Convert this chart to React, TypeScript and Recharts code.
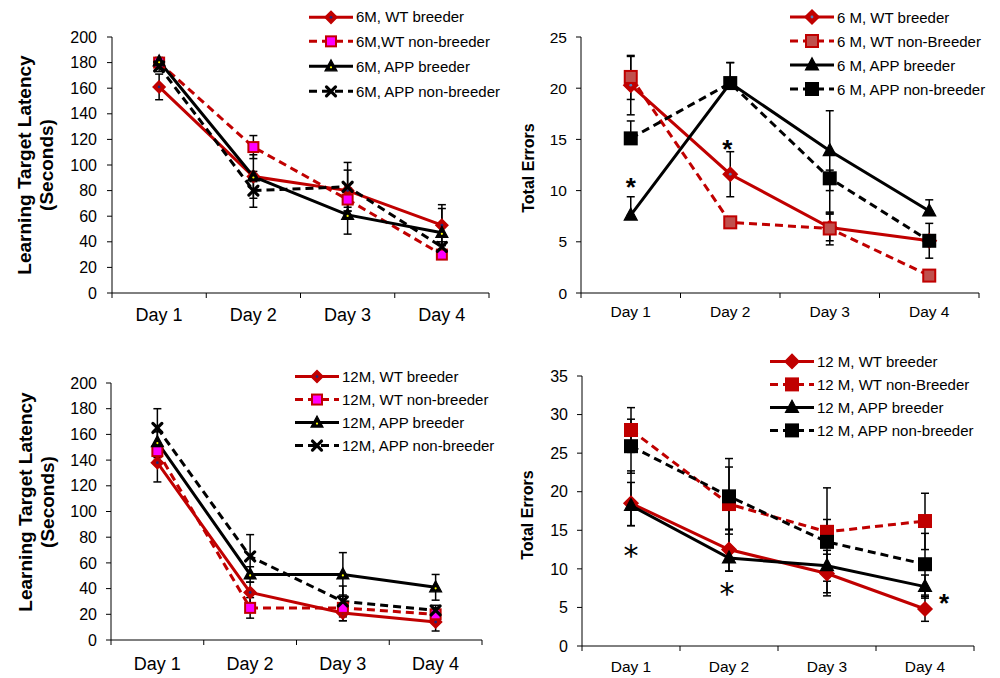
import React from 'react';
import { LineChart, Line, XAxis, YAxis, ErrorBar, ReferenceDot, Legend, Label } from 'recharts';

type Pair = [number, number];

const days = ['Day 1', 'Day 2', 'Day 3', 'Day 4'];

// Top-left: 6M latency (seconds)
const lat6Names = ['6M, WT breeder', '6M,WT non-breeder', '6M, APP breeder', '6M, APP non-breeder'];
const lat6WtB = [161, 91, 80, 53];
const lat6WtBErr: Pair[] = [[10, 10], [4, 4], [16, 16], [16, 16]];
const lat6WtNB = [180, 114, 73, 30];
const lat6WtNBErr: Pair[] = [[3, 3], [9, 9], [6, 6], [3, 3]];
const lat6AppB = [181, 91, 61, 47];
const lat6AppBErr: Pair[] = [[3, 3], [17, 17], [15, 15], [19, 19]];
const lat6AppNB = [177, 80, 83, 36];
const lat6AppNBErr: Pair[] = [[4, 4], [13, 13], [19, 19], [4, 4]];
const latencyTicks = [0, 20, 40, 60, 80, 100, 120, 140, 160, 180, 200];

// Top-right: 6M total errors
const err6Names = ['6 M, WT breeder', '6 M, WT non-Breeder', '6 M, APP breeder', '6 M, APP non-breeder'];
const err6WtB = [20.3, 11.6, 6.4, 5.1];
const err6WtBErr: Pair[] = [[2.9, 2.9], [2.2, 2.2], [1.3, 1.3], [0.5, 0.5]];
const err6WtNB = [21.1, 6.9, 6.3, 1.7];
const err6WtNBErr: Pair[] = [[2.2, 2.0], [0.3, 0.3], [1.6, 1.6], [0.4, 0.4]];
const err6AppB = [7.6, 20.5, 13.9, 8.0];
const err6AppBErr: Pair[] = [[0, 1.8], [0, 2.0], [3.9, 3.9], [0, 1.1]];
const err6AppNB = [15.1, 20.5, 11.2, 5.1];
const err6AppNBErr: Pair[] = [[0, 1.7], [0, 2.0], [3.4, 0.8], [1.7, 1.7]];
const errors6Ticks = [0, 5, 10, 15, 20, 25];
const star6Days = ['Day 1', 'Day 2'];
const star6Vals = [10.9, 14.6];

// Bottom-left: 12M latency (seconds)
const lat12Names = ['12M, WT breeder', '12M, WT non-breeder', '12M, APP breeder', '12M, APP non-breeder'];
const lat12WtB = [138, 37, 21, 14];
const lat12WtBErr: Pair[] = [[15, 15], [8, 8], [6, 6], [7, 7]];
const lat12WtNB = [147, 25, 25, 20];
const lat12WtNBErr: Pair[] = [[5, 5], [8, 8], [10, 10], [5, 5]];
const lat12AppB = [154, 51, 51, 41];
const lat12AppBErr: Pair[] = [[8, 8], [6, 6], [17, 17], [10, 10]];
const lat12AppNB = [165, 65, 30, 23];
const lat12AppNBErr: Pair[] = [[15, 15], [17, 17], [12, 12], [4, 4]];

// Bottom-right: 12M total errors
const err12Names = ['12 M, WT breeder', '12 M, WT non-Breeder', '12 M, APP breeder', '12 M, APP non-breeder'];
const err12WtB = [18.5, 12.5, 9.4, 4.8];
const err12WtBErr: Pair[] = [[2.9, 4.2], [2.8, 2.6], [2.5, 2.5], [1.6, 1.6]];
const err12WtNB = [28.0, 18.4, 14.8, 16.2];
const err12WtNBErr: Pair[] = [[2.9, 2.9], [3.3, 4.8], [1.6, 1.6], [3.7, 3.6]];
const err12AppB = [18.2, 11.4, 10.4, 7.7];
const err12AppBErr: Pair[] = [[2.6, 3.0], [1.7, 3.7], [2.0, 2.0], [1.5, 1.5]];
const err12AppNB = [25.9, 19.4, 13.5, 10.6];
const err12AppNBErr: Pair[] = [[3.5, 3.5], [4.9, 4.9], [7.0, 7.0], [4.0, 4.0]];
const errors12Ticks = [0, 5, 10, 15, 20, 25, 30, 35];
const star12Days = ['Day 1', 'Day 2', 'Day 4'];
const star12Vals = [12.3, 7.4, 6.3];

const FONT = '"Liberation Sans", Arial, Helvetica, sans-serif';
const RED = '#C00000';

type MarkerSpec = { type: 'diamond' | 'square' | 'triangle' | 'cross'; fill: string; stroke: string; size: number; center?: string };
type SeriesStyle = { color: string; dash?: string; marker: MarkerSpec };

function Marker({ cx, cy, m }: { cx: number; cy: number; m: MarkerSpec }) {
  const s = m.size;
  if (cx == null || cy == null) return null;
  if (m.type === 'diamond') {
    return (
      <g>
        <polygon points={`${cx},${cy - s} ${cx + s},${cy} ${cx},${cy + s} ${cx - s},${cy}`} fill={m.fill} stroke={m.stroke} strokeWidth={1.5} />
        {m.center && <circle cx={cx} cy={cy} r={1.4} fill={m.center} />}
      </g>
    );
  }
  if (m.type === 'square') {
    return <rect x={cx - s} y={cy - s} width={2 * s} height={2 * s} fill={m.fill} stroke={m.stroke} strokeWidth={2} />;
  }
  if (m.type === 'triangle') {
    return (
      <g>
        <polygon points={`${cx},${cy - s * 1.1} ${cx + s},${cy + s * 0.75} ${cx - s},${cy + s * 0.75}`} fill={m.fill} stroke={m.stroke} strokeWidth={1.2} />
        {m.center && <circle cx={cx} cy={cy + 1} r={1.1} fill={m.center} />}
      </g>
    );
  }
  return (
    <g stroke={m.stroke} strokeWidth={3.2} strokeLinecap="round">
      <line x1={cx - s} y1={cy - s} x2={cx + s} y2={cy + s} />
      <line x1={cx - s} y1={cy + s} x2={cx + s} y2={cy - s} />
    </g>
  );
}

interface PanelCfg {
  left: number; top: number; width: number; height: number;
  plotL: number; plotR: number; plotT: number; plotB: number;
  yMax: number; yTicks: number[];
  yTickFont: number; yTickGap: number;
  xFont: number; xBaseline: number;
  title: string[]; titleFont: number; titleX: number[]; titleY: number;
  legendX: number; legendY: number; legendRow: number; legendFont: number;
  lineWidth: number;
}

interface PanelProps {
  cfg: PanelCfg;
  names: string[];
  values: number[][];
  errors: Pair[][];
  styles: SeriesStyle[];
  starDays: string[];
  starVals: number[];
  starBold: boolean[];
  starDx: number[];
}

function Panel({ cfg, names, values, errors, styles, starDays, starVals, starBold, starDx }: PanelProps) {
  const data = days.map((d, i) => {
    const row: Record<string, any> = { day: d };
    values.forEach((v, k) => {
      row[`s${k}`] = v[i];
      row[`e${k}`] = errors[k][i];
    });
    return row;
  });
  const bw = (cfg.plotR - cfg.plotL) / days.length;
  const axisY = cfg.plotB;

  const XTick = (p: any) => {
    const { x, payload, index } = p;
    return (
      <g>
        <line x1={x - bw / 2} y1={axisY} x2={x - bw / 2} y2={axisY + 5} stroke="#000" strokeWidth={1} />
        {index === days.length - 1 && <line x1={x + bw / 2} y1={axisY} x2={x + bw / 2} y2={axisY + 5} stroke="#000" strokeWidth={1} />}
        <text x={x} y={axisY + cfg.xBaseline} textAnchor="middle" fill="#000" fontSize={cfg.xFont} fontFamily={FONT}>
          {payload.value}
        </text>
      </g>
    );
  };

  const renderTitle = () => (
    <text
      transform={`translate(0, ${cfg.titleY}) rotate(-90)`}
      textAnchor="middle"
      dominantBaseline="central"
      fontFamily={FONT}
      fontWeight="bold"
      fontSize={cfg.titleFont}
      fill="#000"
    >
      {cfg.title.map((t, i) => (
        <tspan key={i} x={0} y={cfg.titleX[i]}>{t}</tspan>
      ))}
    </text>
  );

  const legendContent = () => (
    <div style={{ fontFamily: FONT, fontSize: cfg.legendFont, color: '#000', whiteSpace: 'nowrap' }}>
      {styles.map((s, i) => (
        <div key={i} style={{ height: cfg.legendRow, display: 'flex', alignItems: 'center' }}>
          <svg width={44} height={cfg.legendRow} style={{ display: 'block', flex: 'none' }}>
            <line x1={0} x2={44} y1={cfg.legendRow / 2} y2={cfg.legendRow / 2} stroke={s.color} strokeWidth={3} strokeDasharray={s.dash} />
            <Marker cx={22} cy={cfg.legendRow / 2} m={s.marker} />
          </svg>
          <span style={{ marginLeft: 3 }}>{names[i]}</span>
        </div>
      ))}
    </div>
  );

  return (
    <div style={{ position: 'absolute', left: cfg.left, top: cfg.top, width: cfg.width, height: cfg.height }}>
      <LineChart
        width={cfg.width}
        height={cfg.height}
        data={data}
        margin={{ top: cfg.plotT, right: cfg.width - cfg.plotR, bottom: 0, left: 0 }}
      >
        <XAxis
          dataKey="day"
          height={cfg.height - cfg.plotB}
          padding={{ left: bw / 2, right: bw / 2 }}
          tickLine={false}
          tickSize={0}
          tickMargin={0}
          interval={0}
          axisLine={{ stroke: '#000', strokeWidth: 1 }}
          tick={XTick}
        />
        <YAxis
          width={cfg.plotL}
          domain={[0, cfg.yMax]}
          ticks={cfg.yTicks}
          interval={0}
          tickSize={5}
          tickMargin={cfg.yTickGap - 5}
          axisLine={{ stroke: '#000', strokeWidth: 1 }}
          tickLine={{ stroke: '#000', strokeWidth: 1 }}
          tick={{ fill: '#000', fontSize: cfg.yTickFont, fontFamily: FONT }}
          label={<Label content={renderTitle} />}
        />
        {styles.map((s, k) => (
          <Line
            key={k}
            dataKey={`s${k}`}
            type="linear"
            stroke={s.color}
            strokeWidth={cfg.lineWidth}
            strokeDasharray={s.dash}
            isAnimationActive={false}
            activeDot={false}
            dot={(p: any) => <Marker key={`d${k}-${p.index}`} cx={p.cx} cy={p.cy} m={s.marker} />}
          >
            <ErrorBar dataKey={`e${k}`} direction="y" width={4} stroke="#000" strokeWidth={1.5} isAnimationActive={false} />
          </Line>
        ))}
        {starDays.map((d, i) => (
          <ReferenceDot
            key={`star${i}`}
            x={d}
            y={starVals[i]}
            r={0}
            ifOverflow="visible"
            shape={(p: any) => {
              const bold = starBold[i];
              const fs = bold ? 26 : 30;
              const off = bold ? 0.57 : 0.5;
              return (
                <text
                  x={p.cx + starDx[i]}
                  y={p.cy + fs * off}
                  textAnchor="middle"
                  fontFamily={bold ? FONT : '"DejaVu Sans", sans-serif'}
                  fontWeight={bold ? 'bold' : 'normal'}
                  fontSize={fs}
                  fill="#000"
                >
                  *
                </text>
              );
            }}
          />
        ))}
        <Legend
          layout="vertical"
          align="center"
          verticalAlign="middle"
          content={legendContent}
          wrapperStyle={{ left: cfg.legendX, top: cfg.legendY - cfg.legendRow / 2, width: 240, height: cfg.legendRow * 4, margin: 0 }}
        />
      </LineChart>
    </div>
  );
}

const latencyStyles: SeriesStyle[] = [
  { color: RED, marker: { type: 'diamond', fill: RED, stroke: RED, size: 6, center: '#1F2A7A' } },
  { color: RED, dash: '8 5', marker: { type: 'square', fill: '#FF00FF', stroke: RED, size: 5 } },
  { color: '#000', marker: { type: 'triangle', fill: '#000', stroke: '#000', size: 6, center: '#FFFF00' } },
  { color: '#000', dash: '8 5', marker: { type: 'cross', fill: '#000', stroke: '#000', size: 4.5 } },
];

const errors6Styles: SeriesStyle[] = [
  { color: RED, marker: { type: 'diamond', fill: RED, stroke: RED, size: 7, center: '#4F81BD' } },
  { color: RED, dash: '8 5', marker: { type: 'square', fill: '#C0504D', stroke: RED, size: 6 } },
  { color: '#000', marker: { type: 'triangle', fill: '#000', stroke: '#000', size: 6.5 } },
  { color: '#000', dash: '8 5', marker: { type: 'square', fill: '#000', stroke: '#000', size: 6 } },
];

const errors12Styles: SeriesStyle[] = [
  { color: RED, marker: { type: 'diamond', fill: RED, stroke: RED, size: 7 } },
  { color: RED, dash: '8 5', marker: { type: 'square', fill: RED, stroke: RED, size: 6 } },
  { color: '#000', marker: { type: 'triangle', fill: '#000', stroke: '#000', size: 6.5 } },
  { color: '#000', dash: '8 5', marker: { type: 'square', fill: '#000', stroke: '#000', size: 6 } },
];

const cfgTL: PanelCfg = {
  left: 0, top: 0, width: 500, height: 336,
  plotL: 112, plotR: 489, plotT: 37, plotB: 293,
  yMax: 200, yTicks: latencyTicks, yTickFont: 16, yTickGap: 15,
  xFont: 18, xBaseline: 28,
  title: ['Learning Target Latency', '(Seconds)'], titleFont: 19, titleX: [24, 46], titleY: 165,
  legendX: 309, legendY: 17, legendRow: 24.7, legendFont: 15, lineWidth: 3,
};

const cfgTR: PanelCfg = {
  left: 500, top: 0, width: 500, height: 336,
  plotL: 81, plotR: 479, plotT: 37, plotB: 293,
  yMax: 25, yTicks: errors6Ticks, yTickFont: 15.5, yTickGap: 14,
  xFont: 15.5, xBaseline: 24,
  title: ['Total Errors'], titleFont: 16, titleX: [27.5], titleY: 168,
  legendX: 290, legendY: 17, legendRow: 24, legendFont: 15, lineWidth: 3,
};

const cfgBL: PanelCfg = {
  left: 0, top: 340, width: 500, height: 338,
  plotL: 111, plotR: 482, plotT: 43, plotB: 300,
  yMax: 200, yTicks: latencyTicks, yTickFont: 16, yTickGap: 14,
  xFont: 18, xBaseline: 29.5,
  title: ['Learning Target Latency', '(Seconds)'], titleFont: 19, titleX: [25, 47], titleY: 162,
  legendX: 295, legendY: 36.7, legendRow: 23.1, legendFont: 15, lineWidth: 3,
};

const cfgBR: PanelCfg = {
  left: 500, top: 340, width: 500, height: 338,
  plotL: 82, plotR: 474, plotT: 36, plotB: 306,
  yMax: 35, yTicks: errors12Ticks, yTickFont: 16, yTickGap: 14,
  xFont: 15.5, xBaseline: 25.5,
  title: ['Total Errors'], titleFont: 16, titleX: [27], titleY: 175,
  legendX: 270, legendY: 21.7, legendRow: 22.8, legendFont: 15, lineWidth: 3,
};

export default function App() {
  return (
    <div style={{ position: 'absolute', left: 0, top: 0, width: 1000, height: 678, background: '#fff', overflow: 'hidden' }}>
      <Panel
        cfg={cfgTL}
        names={lat6Names}
        values={[lat6WtB, lat6WtNB, lat6AppB, lat6AppNB]}
        errors={[lat6WtBErr, lat6WtNBErr, lat6AppBErr, lat6AppNBErr]}
        styles={latencyStyles}
        starDays={[]}
        starVals={[]}
        starBold={[]}
        starDx={[]}
      />
      <Panel
        cfg={cfgTR}
        names={err6Names}
        values={[err6WtB, err6WtNB, err6AppB, err6AppNB]}
        errors={[err6WtBErr, err6WtNBErr, err6AppBErr, err6AppNBErr]}
        styles={errors6Styles}
        starDays={star6Days}
        starVals={star6Vals}
        starBold={[true, true]}
        starDx={[0, -3]}
      />
      <Panel
        cfg={cfgBL}
        names={lat12Names}
        values={[lat12WtB, lat12WtNB, lat12AppB, lat12AppNB]}
        errors={[lat12WtBErr, lat12WtNBErr, lat12AppBErr, lat12AppNBErr]}
        styles={latencyStyles}
        starDays={[]}
        starVals={[]}
        starBold={[]}
        starDx={[]}
      />
      <Panel
        cfg={cfgBR}
        names={err12Names}
        values={[err12WtB, err12WtNB, err12AppB, err12AppNB]}
        errors={[err12WtBErr, err12WtNBErr, err12AppBErr, err12AppNBErr]}
        styles={errors12Styles}
        starDays={star12Days}
        starVals={star12Vals}
        starBold={[false, false, true]}
        starDx={[0, -2, 19]}
      />
    </div>
  );
}
